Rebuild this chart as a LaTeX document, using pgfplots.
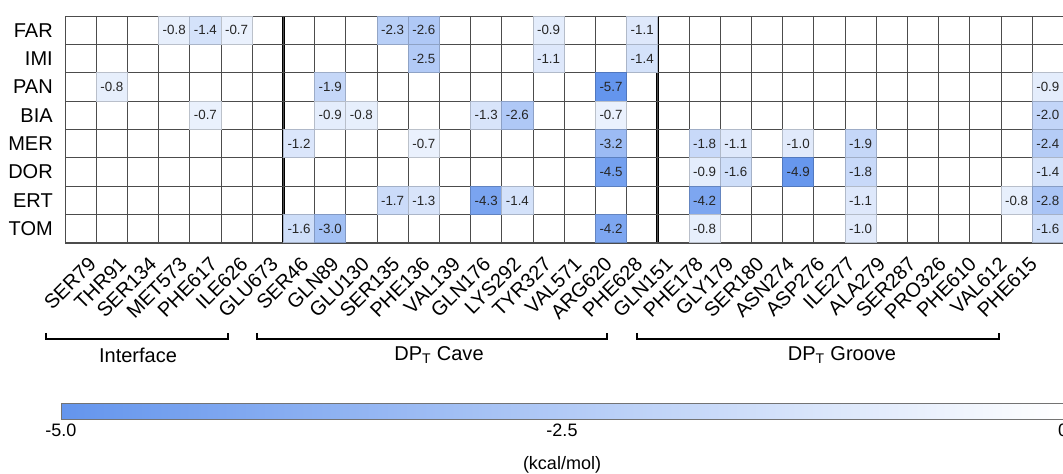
\documentclass[border=0pt]{standalone}
\usepackage{fontspec}
\setmainfont{Liberation Sans}
\usepackage{pgfplots}
\pgfplotsset{compat=1.18}
\usetikzlibrary{calc}
\pgfplotstableread{
x y v
3 0 -0.8
4 0 -1.4
5 0 -0.7
10 0 -2.3
11 0 -2.6
15 0 -0.9
18 0 -1.1
11 1 -2.5
15 1 -1.1
18 1 -1.4
1 2 -0.8
8 2 -1.9
17 2 -5.7
31 2 -0.9
4 3 -0.7
8 3 -0.9
9 3 -0.8
13 3 -1.3
14 3 -2.6
17 3 -0.7
31 3 -2.0
7 4 -1.2
11 4 -0.7
17 4 -3.2
20 4 -1.8
21 4 -1.1
23 4 -1.0
25 4 -1.9
31 4 -2.4
17 5 -4.5
20 5 -0.9
21 5 -1.6
23 5 -4.9
25 5 -1.8
31 5 -1.4
10 6 -1.7
11 6 -1.3
13 6 -4.3
14 6 -1.4
20 6 -4.2
25 6 -1.1
30 6 -0.8
31 6 -2.8
7 7 -1.6
8 7 -3.0
17 7 -4.2
20 7 -0.8
25 7 -1.0
31 7 -1.6
}\energies
\begin{document}
\begin{tikzpicture}
\begin{axis}[
  at={(48.75pt,173.25pt)}, anchor=south west,
  scale only axis, width=748.8pt, height=170.25pt,
  xmin=-0.5, xmax=31.5, ymin=-0.5, ymax=7.5, y dir=reverse,
  xtick={0,...,31},
  xticklabels={SER79,THR91,SER134,MET573,PHE617,ILE626,GLU673,SER46,GLN89,GLU130,SER135,PHE136,VAL139,GLN176,LYS292,TYR327,VAL571,ARG620,PHE628,GLN151,PHE178,GLY179,SER180,ASN274,ASP276,ILE277,ALA279,SER287,PRO326,PHE610,VAL612,PHE615},
  ytick={0,...,7},
  yticklabels={FAR,IMI,PAN,BIA,MER,DOR,ERT,TOM},
  minor xtick={-0.5,0.5,...,31.5},
  minor ytick={-0.5,0.5,...,7.5},
  xminorgrids, yminorgrids,
  minor grid style={black!70, line width=0.6pt},
  major tick length=0pt, minor tick length=0pt,
  axis line style={black!70, line width=0.75pt},
  axis on top,
  point meta min=-5, point meta max=0,
  colormap={cb}{rgb255=(100,149,237) rgb255=(255,255,255)},
  xticklabel style={xshift={5pt-0.63pt*\ticknum}, yshift=-9.5pt, rotate=45, anchor=north east, inner sep=0pt, font=\fontsize{15}{16}\selectfont},
  yticklabel style={anchor=east, inner sep=0pt, xshift=-9pt, font=\fontsize{15}{16}\selectfont},
  colorbar horizontal,
  colorbar style={
    at={($(parent axis.south west)+(-3pt,-111.75pt)$)}, anchor=north west,
    scale only axis, width=751.5pt, height=12pt,
    xtick={-5,-2.5,0}, xticklabels={-5.0,-2.5,0},
    major tick length=0pt,
    axis line style={black!55, line width=0.6pt},
    xticklabel style={font=\fontsize{13.5}{14}\selectfont, inner sep=0pt, anchor=north, yshift=-3pt},
  },
]
% coloured cells
\addplot[scatter, only marks, mark=square*, mark size=11.7pt,
  scatter src=explicit,
  mark options={yscale=0.9094, line width=0pt}]
  table[x=x, y=y, meta=v] {\energies};
% cell values
\addplot[only marks, mark=none, point meta=explicit,
  nodes near coords={\pgfmathprintnumber[fixed,fixed zerofill,precision=1,assume math mode=true]{\pgfplotspointmeta}},
  nodes near coords style={anchor=center, font=\fontsize{10}{10}\selectfont, text=black!85}]
  table[x=x, y=y, meta=v] {\energies};
\draw[black, line width=2pt] (axis cs:6.5,-0.5) -- (axis cs:6.5,7.5);
\draw[black, line width=2pt] (axis cs:18.5,-0.5) -- (axis cs:18.5,7.5);
\end{axis}
\draw[line width=1.3pt] (34.5pt,105.75pt) -- (34.5pt,101.25pt) -- (171pt,101.25pt) -- (171pt,105.75pt);
\draw[line width=1.3pt] (192.75pt,105.75pt) -- (192.75pt,101.25pt) -- (455.25pt,101.25pt) -- (455.25pt,105.75pt);
\draw[line width=1.3pt] (477.75pt,105.75pt) -- (477.75pt,101.25pt) -- (749.25pt,101.25pt) -- (749.25pt,105.75pt);
\node[font=\fontsize{15}{16}\selectfont] at (103.5pt,89.25pt) {Interface};
\node[font=\fontsize{15}{16}\selectfont] at (329.25pt,89.25pt) {DP\textsubscript{T} Cave};
\node[font=\fontsize{15}{16}\selectfont] at (631.5pt,89.25pt) {DP\textsubscript{T} Groove};
\node[font=\fontsize{13.5}{14}\selectfont] at (421.5pt,6.75pt) {(kcal/mol)};
\pgfresetboundingbox
\useasboundingbox (0,0) rectangle (797.25pt,355.5pt);
\end{tikzpicture}
\end{document}
